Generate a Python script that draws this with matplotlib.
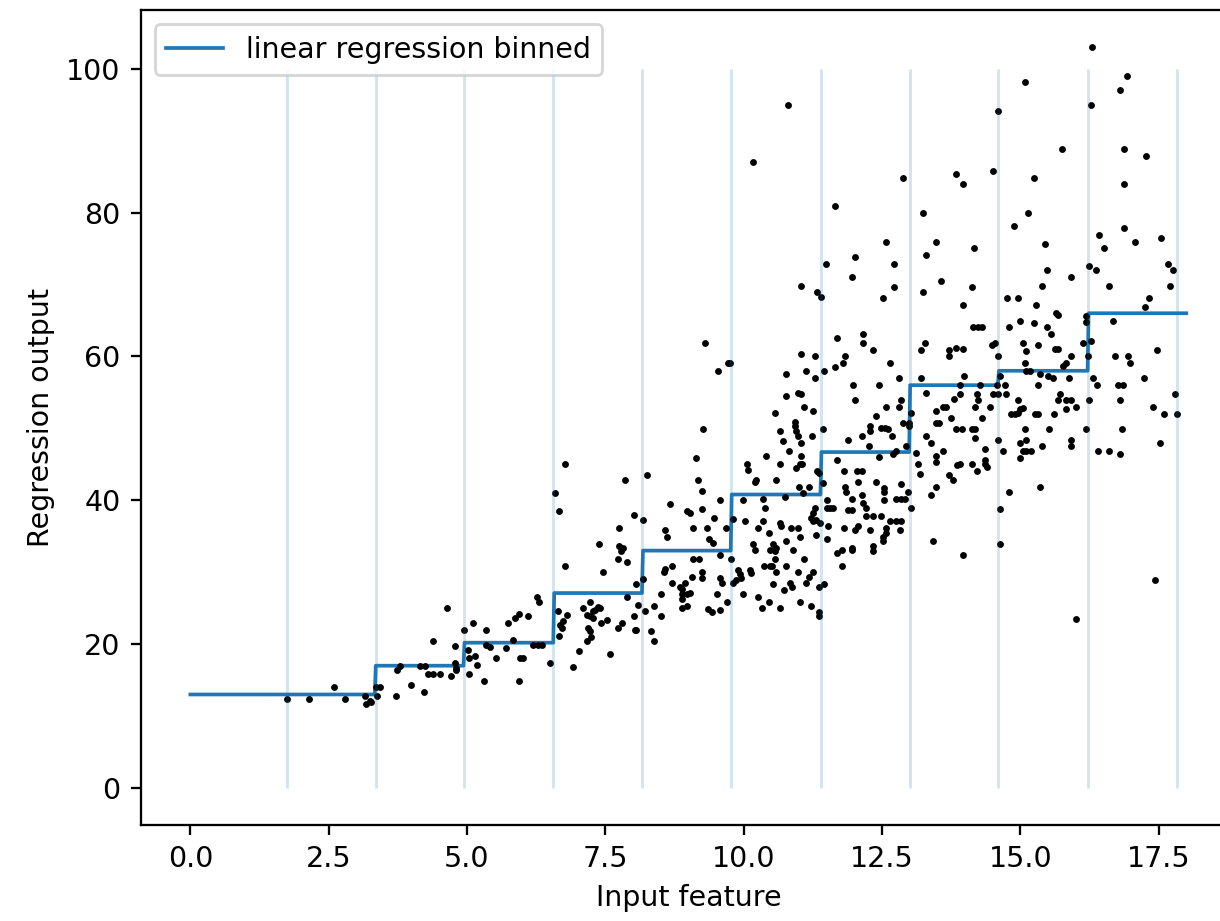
import numpy as np
import matplotlib
matplotlib.use("Agg")
import matplotlib.pyplot as plt

# bin edges of the discretizer and the fitted value of each bin
bin_edges = [1.75, 3.35, 4.95, 6.56, 8.17, 9.78, 11.39, 13.0, 14.6, 16.22, 17.83]
bin_means = [13.0, 17.0, 20.2, 27.1, 33.0, 40.8, 46.7, 56.0, 58.0, 66.0]

# data points
point_x = [
    1.75, 2.15, 2.59, 2.79, 3.15, 3.18, 3.24, 3.27, 3.35, 3.42, 3.38, 3.71, 3.74, 3.79,
    3.98, 4.15, 4.24, 4.22, 4.30, 4.38, 4.51, 4.38, 4.63, 4.71, 4.78, 4.78, 4.80, 4.81,
    4.94, 5.02, 5.04, 5.03, 5.10, 5.14, 5.18, 5.30, 5.34, 5.35, 5.41, 5.53,
    7.79, 7.73, 7.89, 6.78, 7.46, 8.05, 8.18, 5.71, 5.74, 5.86, 5.94, 6.11, 5.83, 6.26,
    6.30, 5.95, 6.01, 5.94, 6.19, 6.29, 6.36, 6.50, 6.65, 6.80, 6.68, 6.71, 6.74, 6.66,
    6.91, 7.02, 7.10, 7.22, 7.27, 7.31, 7.37, 7.41, 7.17, 7.22, 7.28, 7.19, 7.22, 7.25,
    7.17, 7.43, 7.53, 7.58, 7.73, 7.81, 7.90, 8.02, 8.03, 8.06, 8.09, 8.21, 8.33, 8.38,
    8.38, 8.50, 8.50, 8.57, 8.56, 8.71, 8.70, 8.85, 8.94, 8.88, 8.89, 8.88, 8.97, 9.03,
    8.89, 8.97, 9.06, 9.09, 9.19, 9.25, 9.25, 9.36, 9.42, 9.51, 9.57, 9.60, 9.57, 9.57,
    9.69,
    9.30, 9.54, 9.72, 9.26, 9.13, 9.18, 9.25, 6.78, 6.59, 6.66, 7.85, 8.26, 8.01, 8.18,
    7.74, 7.38, 7.74, 7.82, 8.67, 8.97, 9.03, 9.25, 9.57, 9.47, 8.57, 8.62, 9.09, 9.33,
    9.38, 9.45, 9.68,
    10.81, 10.17, 11.65, 12.88, 13.84, 13.24, 12.57, 13.48, 13.29, 11.48, 12.01, 12.72,
    11.96, 12.72, 13.56, 13.24, 11.04, 11.33, 11.39, 12.52,
    9.75, 11.69, 12.16, 12.16, 12.33, 11.04, 11.29, 11.84, 11.80, 11.65, 11.45, 12.65,
    11.13, 10.76, 11.29, 12.81, 11.97, 12.45, 13.21, 13.27, 13.20, 13.72, 13.72, 13.84,
    10.77, 10.98, 11.04, 12.01, 11.09, 11.25, 10.57, 12.57, 12.81, 12.84, 13.29, 13.81,
    13.48, 13.60, 13.66, 12.40, 13.75, 13.48, 13.53, 10.92, 10.92, 10.95, 10.98, 10.65,
    11.24, 11.44, 12.28, 12.28, 12.13, 12.49, 12.55, 12.60, 12.69, 11.89, 12.88, 12.99,
    12.99, 13.03, 13.30, 13.84, 10.71, 10.82, 11.04, 11.04, 11.06, 11.01, 10.41, 10.65,
    10.06, 10.08, 10.20, 10.23, 10.59, 10.94, 11.00, 11.18, 11.07, 12.27, 12.45, 12.70,
    12.76, 12.94, 13.12, 13.39, 13.60, 13.48, 13.48, 13.86, 13.15, 13.18, 13.72, 13.79,
    13.48, 13.39, 13.03, 13.43, 11.33, 11.36, 11.69, 11.44, 11.81, 12.04, 12.13, 12.07,
    12.40, 12.85, 11.83, 11.85, 12.53, 12.53, 12.53, 12.76, 12.85, 12.91, 12.97, 11.50,
    11.96, 12.13, 11.50, 11.56, 11.62, 11.89, 11.95, 12.16, 12.22, 9.99, 10.35, 10.38,
    10.74, 11.29, 11.26, 11.22, 11.31, 11.26, 11.38, 9.81, 10.02, 10.35, 10.26, 10.46,
    10.65, 10.68, 10.85, 10.98, 11.01, 10.53, 10.59, 10.17, 10.76, 11.30, 11.53, 11.50,
    11.81, 12.01, 12.07, 12.21, 12.33, 12.28, 12.49, 12.57, 12.57, 12.64, 12.76, 12.85,
    12.82, 12.52, 12.52, 12.34, 11.95,
    10.20, 10.47, 10.56, 10.89, 9.78, 9.90, 9.93, 9.96, 9.87, 9.80, 10.12, 10.14, 10.36,
    10.47, 10.52, 10.56, 10.58, 10.77, 10.98, 11.09, 10.53, 10.83, 10.88, 10.73, 11.13,
    11.19, 11.25, 11.37, 11.45, 9.98, 10.26, 10.46, 10.34, 10.65, 11.01, 11.21, 11.37,
    11.37, 11.68, 11.77, 11.95, 12.34, 11.77,
    16.29, 16.92, 16.80, 16.27, 15.08, 14.60, 15.76, 16.87, 17.28, 13.97, 14.51, 15.24,
    16.87, 15.13, 14.88, 16.87, 16.43, 17.08, 17.55, 14.16, 15.44, 16.51, 15.48, 16.24,
    16.36, 17.67, 17.76, 15.92, 14.13, 15.40, 16.60, 17.71, 14.76, 14.96, 17.32,
    15.29, 15.65, 15.68, 17.25, 16.68, 15.00, 15.24, 15.48, 15.56, 14.15, 14.24, 14.30,
    14.80, 13.97, 14.48, 14.54, 13.97, 15.04, 15.32, 15.11, 15.62, 15.68, 16.13, 16.28,
    14.60, 15.08, 15.92, 15.82, 15.78, 16.19, 16.18, 16.22, 16.71, 16.95, 16.99, 17.47,
    13.99, 14.63, 15.11, 15.17, 15.35, 15.50, 15.59, 15.88, 13.91, 14.27, 14.57, 14.72,
    15.32, 16.31, 16.39, 16.77, 16.86, 17.23, 13.91, 14.21, 14.51, 14.60, 14.75, 15.71,
    17.79, 14.24, 14.19, 14.45, 14.96, 15.68, 15.83, 15.91, 16.24, 16.81, 14.99, 15.05,
    14.84, 14.90, 14.96, 15.26, 15.32, 15.60, 15.83, 16.00, 17.40, 17.59, 17.83, 14.31,
    13.95, 14.13, 14.18, 15.08, 15.52, 16.19, 16.84, 14.19, 14.60, 14.99, 15.11, 15.40,
    15.92, 15.92, 14.36, 14.69, 15.05, 15.11, 15.20, 16.40, 16.60, 16.80, 17.52, 14.99,
    13.91, 14.12, 14.36, 14.36, 14.39, 14.21, 15.36, 14.80, 14.64, 14.64,
    13.97, 16.00, 17.43,
]
point_y = [
    12.4, 12.4, 14.05, 12.4, 12.75, 11.7, 12.05, 11.97, 14.05, 14.05, 12.75, 12.75, 16.46, 17.0,
    14.28, 17.0, 17.0, 13.35, 15.9, 15.9, 15.9, 20.5, 25.0, 15.5, 19.7, 17.4, 16.7, 16.4,
    22.0, 19.2, 18.08, 15.85, 22.9, 18.3, 17.1, 14.9, 22.0, 19.9, 19.6, 18.08,
    32.9, 31.8, 31.4, 30.9, 30.0, 28.4, 29.05, 19.5, 22.9, 23.6, 24.2, 23.9, 20.6, 26.6,
    25.9, 18.08, 18.08, 14.9, 19.9, 19.9, 19.9, 17.4, 24.6, 24.1, 22.7, 22.2, 23.2, 21.1,
    16.8, 19.0, 25.0, 25.9, 24.6, 24.8, 25.2, 25.0, 24.1, 23.9, 23.6, 22.2, 21.8, 21.0,
    20.5, 22.9, 23.3, 18.6, 22.2, 22.9, 26.6, 23.9, 22.0, 21.9, 25.5, 24.6, 21.8, 20.5,
    25.3, 23.9, 26.9, 30.4, 30.0, 30.9, 28.5, 28.0, 28.5, 27.6, 26.9, 26.3, 26.9, 27.1,
    25.0, 25.3, 29.4, 31.8, 31.8, 30.0, 29.2, 24.9, 24.4, 26.9, 29.2, 28.5, 24.8, 32.4,
    25.9,
    61.8, 57.9, 59.05, 49.9, 45.9, 42.85, 41.3, 45.0, 41.0, 38.5, 42.85, 43.45, 37.9, 37.3,
    36.1, 33.9, 33.7, 33.4, 39.5, 38.5, 38.2, 38.8, 40.1, 37.6, 35.8, 34.9, 36.1, 36.1,
    34.6, 34.05, 36.1,
    95.0, 87.0, 80.9, 84.8, 85.4, 80.0, 75.9, 75.9, 74.1, 72.9, 73.8, 72.9,
    71.1, 69.6, 70.5, 68.9, 69.8, 68.9, 68.2, 68.1,
    59.1, 62.5, 63.1, 61.8, 60.9, 60.4, 60.1, 60.1, 59.05, 58.5, 58.0, 59.1,
    58.0, 57.6, 57.0, 57.0, 56.0, 56.0, 57.0, 61.9, 60.9, 60.9, 60.1, 61.1,
    54.5, 54.9, 54.8, 54.0, 53.0, 52.4, 52.1, 53.0, 53.0, 54.0, 54.9, 54.05,
    52.4, 53.0, 53.0, 51.7, 51.4, 50.8, 50.8, 50.9, 50.3, 49.6, 49.0, 49.6,
    49.0, 49.9, 50.3, 49.6, 49.0, 50.0, 50.0, 49.9, 49.0, 48.4, 50.8, 50.8,
    50.3, 52.1, 49.0, 49.9, 48.2, 46.8, 48.0, 46.2, 45.0, 45.0, 46.1, 45.0,
    45.0, 44.2, 42.6, 42.85, 42.85, 44.5, 41.9, 41.9, 41.0, 47.5, 46.0, 46.5,
    46.8, 47.5, 46.55, 48.0, 46.8, 46.1, 45.3, 44.9, 45.0, 43.6, 43.5, 42.85,
    41.9, 40.8, 38.9, 34.3, 44.1, 43.8, 45.6, 42.4, 44.1, 44.1, 44.1, 42.6,
    42.6, 42.25, 41.9, 41.1, 41.7, 41.1, 40.1, 40.15, 40.15, 40.15, 41.1, 40.1,
    40.15, 40.8, 38.9, 38.9, 38.9, 38.6, 38.6, 39.6, 38.9, 40.1, 40.15, 38.9,
    40.4, 38.9, 38.2, 37.5, 37.3, 37.05, 36.9, 37.4, 37.05, 37.05, 36.1, 35.4,
    36.9, 36.4, 36.1, 36.1, 34.9, 33.9, 33.35, 33.9, 34.3, 35.2, 36.45, 34.6,
    36.1, 35.9, 36.4, 37.75, 37.75, 35.8, 37.85, 36.1, 35.4, 37.15, 37.15, 37.15,
    35.8, 34.9, 34.3, 33.6, 33.35,
    33.1, 33.1, 32.9, 33.1, 31.8, 30.3, 29.8, 29.2, 28.9, 28.5, 30.3, 29.9, 30.9,
    30.9, 30.9, 31.8, 30.0, 30.9, 30.0, 31.8, 28.4, 28.5, 27.9, 27.5, 28.5,
    29.4, 30.0, 27.9, 28.4, 27.0, 26.5, 25.9, 25.0, 25.0, 25.9, 25.35, 24.4,
    23.9, 32.7, 33.1, 33.1, 32.9, 30.9,
    103.0, 99.0, 97.1, 95.0, 98.1, 94.1, 88.8, 88.8, 87.9, 83.9, 85.8, 84.8,
    83.9, 80.0, 78.1, 77.8, 76.9, 75.9, 76.5, 75.0, 75.6, 75.0, 72.0, 72.6,
    72.0, 72.9, 72.0, 71.1, 69.6, 69.8, 69.8, 69.8, 68.1, 68.1, 68.1,
    67.2, 66.1, 65.8, 66.8, 64.9, 64.9, 64.6, 64.1, 63.1, 64.05, 64.05, 64.05,
    64.05, 61.0, 61.6, 61.9, 67.2, 61.9, 61.6, 60.7, 61.0, 61.0, 61.9, 62.2,
    60.1, 59.1, 60.1, 59.05, 58.7, 64.8, 65.6, 60.1, 60.1, 60.1, 59.1, 60.9,
    57.3, 57.3, 57.9, 57.9, 57.6, 57.3, 57.0, 57.0, 56.0, 56.0, 56.0, 56.0,
    56.0, 57.0, 56.0, 56.0, 56.0, 57.0, 54.8, 54.8, 54.8, 54.8, 54.8, 54.8,
    54.8, 54.0, 53.0, 53.0, 54.0, 54.0, 54.0, 54.0, 54.0, 54.0, 52.7, 52.8,
    52.0, 52.0, 52.1, 52.0, 52.0, 52.0, 52.7, 52.9, 52.9, 52.0, 52.0, 51.4,
    49.9, 49.9, 49.9, 49.9, 49.9, 49.9, 49.9, 48.6, 48.4, 48.0, 48.4, 47.5,
    48.4, 47.5, 47.1, 46.8, 46.8, 46.8, 46.8, 46.8, 46.8, 46.5, 48.0, 45.9,
    45.0, 45.0, 45.6, 45.0, 44.6, 44.0, 41.9, 41.1, 38.8, 33.9,
    32.4, 23.5, 28.96,
]

# evaluate the binned model on a fine grid, like predict() would
line = np.linspace(0, 18, 1000)
bin_idx = np.clip(np.digitize(line, bin_edges[1:-1]), 0, len(bin_means) - 1)
line_pred = np.array(bin_means)[bin_idx]

fig = plt.figure(figsize=(1220 / 205, 921 / 205), dpi=205)
ax = fig.add_axes([0.1152, 0.1042, 0.898, 0.8849])

ax.plot(line, line_pred, lw=1.3, label='linear regression binned')
ax.plot(point_x, point_y, 'o', c='k', markersize=1.4)
ax.vlines(bin_edges, 0, 100, linewidth=1, alpha=.2)
ax.legend(loc='best')
ax.set_ylabel("Regression output")
ax.set_xlabel("Input feature")

fig.savefig("out.png", dpi=205)
